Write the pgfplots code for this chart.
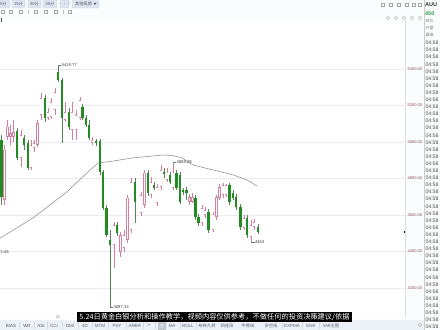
\documentclass[border=0pt]{standalone}
\usepackage{pgfplots}
\pgfplotsset{compat=1.18}
\usepackage{pgfplotstable}
\usepackage{fontspec}
\setmainfont{Liberation Sans}
\newfontfamily\cjk{Noto Sans CJK SC}

\definecolor{upcol}{RGB}{208,128,162}
\definecolor{dncol}{RGB}{34,140,34}
\definecolor{dnwick}{RGB}{90,130,90}
\definecolor{gridc}{RGB}{232,235,240}
\definecolor{pricec}{RGB}{140,70,85}
\definecolor{mac}{RGB}{135,135,135}
\definecolor{btn}{RGB}{221,228,240}
\definecolor{tabbg}{RGB}{236,241,248}
\definecolor{bgc}{RGB}{250,252,254}
\definecolor{txtg}{RGB}{90,96,110}

\pgfplotstableread{
x o h l c
1.2 5011 5039 4655 4699
17 5061 5077 4902 4913
24 5022 5039 4957 4984
28 4995 5011 4847 4858
45 5241 5258 5110 5132
58 5384 5419.77 5329 5340
62 5340 5351 4995 5132
69 5165 5187 5066 5083
82.5 5192 5208 5121 5132
86 5132 5148 5083 5093
89 5093 5121 5011 5022
96 5006 5017 4978 4995
100 5006 5017 4820 4836
103 4836 4847 4628 4639
106.5 4639 4655 4480 4491
110 4464 4518 4097.33 4436
117 4546 4562 4486 4502
135 4781 4803 4557 4672
148 4831 4847 4705 4721
154 4765 4781 4738 4749
164 4836 4858 4803 4825
170 4820 4836 4770 4781
176.5 4831 4847 4738 4749
180 4820 4836 4661 4672
183 4738 4749 4710 4727
186.5 4738 4754 4683 4721
195.5 4694 4710 4573 4590
198.5 4590 4606 4540 4557
208.5 4617 4634 4502 4519
229.5 4765 4776 4655 4672
233 4721 4738 4683 4694
236 4699 4716 4628 4645
240.5 4645 4661 4519 4535
247 4584 4601 4475 4491
258 4535 4551 4497 4508
}\dntab

\pgfplotstableread{
x o h l c
4.4 4683 4984 4655 4957
7.5 5028 5121 5011 5083
10.5 5028 5093 4984 5050
13.5 5028 5121 5000 5055
21 4913 5066 4864 5039
31 4858 5011 4847 4984
34 4968 5011 4946 4995
37.5 4984 5121 4973 5104
41 5148 5269 5121 5241
48 5132 5187 5121 5165
51 5137 5241 5126 5219
55 5176 5296 5148 5274
65 5121 5219 5110 5165
72 5066 5219 5011 5165
76 5066 5176 5011 5148
80 5132 5247 5121 5230
92 4995 5028 4984 5011
114 4436 4562 4311 4546
120.5 4398 4508 4371 4491
124 4420 4518 4398 4491
127.5 4464 4710 4447 4694
131 4518 4803 4502 4781
141 4612 4727 4595 4710
144.5 4655 4847 4639 4831
151 4710 4809 4694 4781
157 4666 4770 4650 4754
161 4754 4874 4738 4847
167 4792 4858 4781 4831
173 4749 4888.29 4738 4831
189.5 4672 4716 4655 4699
192.5 4672 4721 4666 4699
202 4557 4655 4540 4639
205 4601 4645 4584 4628
213 4519 4617 4508 4601
216.5 4590 4710 4573 4699
219.5 4694 4770 4683 4754
223 4710 4776 4694 4765
226 4710 4770 4699 4765
244 4530 4601 4519 4584
251 4480 4573 4453 4546
254 4535 4579 4519 4562
}\uptab

\pgfplotstableread{
x y
0 4473
33 4584
67 4727
87 4831
98 4885
110 4893
133 4913
150 4922
163 4929
173 4925
182 4913
193 4874
213 4847
233 4820
247 4792
257 4759
}\matab

\begin{document}
\begin{tikzpicture}
\useasboundingbox (0,0) rectangle (440bp,330bp);
\fill[bgc] (0,0) rectangle (440bp,330bp);
\fill[white] (0,12bp) rectangle (405bp,310bp);
\begin{axis}[
  at={(0bp,14bp)}, anchor=south west,
  scale only axis, width=405bp, height=294bp,
  xmin=0, xmax=405, ymin=4046.7, ymax=5657.5,
  axis line style={draw=none},
  xtick=\empty,
  ytick={4200,4400,4600,4800,5000,5200,5400},
  ymajorgrids, grid style={gridc, line width=0.5bp},
  major tick length=0pt,
  yticklabel pos=right,
  yticklabel style={font=\fontsize{4}{5}\selectfont, text=pricec, anchor=west, inner sep=0pt, xshift=2.5bp},
  /pgf/number format/fixed,
  /pgf/number format/fixed zerofill,
  /pgf/number format/precision=2,
  /pgf/number format/1000 sep={},
  /pgf/number format/assume math mode=true,
]
\addplot[mac, line width=0.5bp] table[x=x,y=y]{\matab};
% up wicks
\addplot[draw=none, error bars/.cd, y dir=plus, y explicit, error mark=none,
  error bar style={draw=upcol, line width=0.5bp}]
  table[x=x, y=l, y error plus expr={\thisrow{h}-\thisrow{l}}]{\uptab};
% up bodies
\addplot[draw=none, error bars/.cd, y dir=plus, y explicit, error mark=none,
  error bar style={draw=upcol, line width=2.6bp}]
  table[x=x, y=o, y error plus expr={\thisrow{c}-\thisrow{o}}]{\uptab};
\addplot[draw=none, error bars/.cd, y dir=plus, y explicit, error mark=none,
  error bar style={draw=white, line width=1.4bp}]
  table[x=x, y expr={\thisrow{o}+3.5}, y error plus expr={max(\thisrow{c}-\thisrow{o}-7,0)}]{\uptab};
% down wicks
\addplot[draw=none, error bars/.cd, y dir=plus, y explicit, error mark=none,
  error bar style={draw=dnwick, line width=0.5bp}]
  table[x=x, y=l, y error plus expr={\thisrow{h}-\thisrow{l}}]{\dntab};
% down bodies
\addplot[draw=none, error bars/.cd, y dir=plus, y explicit, error mark=none,
  error bar style={draw=dncol, line width=2.6bp}]
  table[x=x, y=c, y error plus expr={\thisrow{o}-\thisrow{c}}]{\dntab};
% annotations
\tikzset{ann/.style={font=\fontsize{4.2}{5}\selectfont, text=black!75, inner sep=0.4bp, anchor=west}}
\draw[black!55, line width=0.35bp] (axis cs:58,5419.77) -- (axis cs:61,5419.77) node[ann]{5419.77};
\draw[black!55, line width=0.35bp] (axis cs:110,4097.33) -- (axis cs:113,4097.33) node[ann]{4097.33};
\draw[black!55, line width=0.35bp] (axis cs:173,4888.29) -- (axis cs:176,4888.29) node[ann]{4888.29};
\draw[black!55, line width=0.35bp] (axis cs:251,4453) -- (axis cs:254.5,4453) node[ann]{4453};
\end{axis}

\begin{scope}[x=1bp,y=-1bp,yshift=330bp]
% separators
\draw[gray!25, line width=0.4bp] (405.5,20) -- (405.5,318);
\draw[gray!40, line width=0.4bp] (424,0) -- (424,330);
% current price marker
\fill[black] (403.5,231.3) rectangle (405.3,232.6);
% left label (cut in the reference)
\node[anchor=west, font=\fontsize{4.2}{5}\selectfont, text=black!75, inner sep=0pt] at (0.3,252.5) {3.49};
% top toolbar buttons
\foreach \a/\b/\t in {-4/10/5分,12/25/15分,28/41/30分,43/57/60分,60/69/···} {
  \filldraw[fill=btn, draw=btn!80!gray, line width=0.3bp, rounded corners=1bp] (\a,-2) rectangle (\b,8);
  \node[font=\cjk\fontsize{4.2}{5}\selectfont, text=txtg, inner sep=0pt] at ({(\a+\b)/2},4) {\t};
}
\filldraw[fill=btn, draw=btn!80!gray, line width=0.3bp, rounded corners=1bp] (72,-2) rectangle (99,8);
\node[font=\cjk\fontsize{4.2}{5}\selectfont, text=txtg, inner sep=0pt] at (83.5,4) {其他周期};
\fill[txtg] (93.5,3) -- (96.5,3) -- (95,5) -- cycle;
% icon row 2
\foreach \x in {3,11,21,36,46,56,70} {\draw[gray!70, line width=0.4bp] (\x-1.5,10.5) rectangle (\x+1.5,13.5);}
\foreach \x in {28,63} {\draw[gray!50, line width=0.3bp] (\x,10) -- (\x,14);}
\fill[black!70] (1.5,18.5) rectangle (2.5,22);
% top right icons
\foreach \x in {383,391,399,407,414,420} {\draw[gray!70, line width=0.4bp] (\x-1.6,3.4) rectangle (\x+1.6,6.6);}
\foreach \x in {388,396,404,412,420} {\draw[gray!70, line width=0.4bp] (\x,18) circle (1.6);}
% right column
\node[anchor=west, font=\bfseries\fontsize{5.5}{6}\selectfont, text=black!80, inner sep=0pt] at (425,5) {AUU};
\node[anchor=west, font=\bfseries\fontsize{5.5}{6}\selectfont, text={rgb,255:red,40;green,160;blue,70}, inner sep=0pt] at (425,13.5) {450};
\node[anchor=west, font=\cjk\fontsize{4}{5}\selectfont, text=gray, inner sep=0pt] at (425.5,21.5) {现价};
\node[anchor=west, font=\cjk\fontsize{4}{5}\selectfont, text=gray, inner sep=0pt] at (425.5,28) {开盘};
\node[anchor=west, font=\cjk\fontsize{4}{5}\selectfont, text=gray, inner sep=0pt] at (425.5,34.5) {最高};
\foreach \k in {0,...,40} {
  \node[anchor=west, font=\fontsize{5.2}{6}\selectfont, text=black!70, inner sep=0pt] at (425.3,{43+7.1*\k}) {04:58};
}
% small time label
\node[font=\fontsize{3.8}{4}\selectfont, text=gray, inner sep=0pt] at (58,317) {03};
% bottom tab bar
\fill[tabbg] (0,320) rectangle (423.5,330);
\foreach \x/\t in {11/BIAS,27/WR,41/ASI,54/CCI,70/DMI,85/4D,100/MTM,117/PSY,135/ARBR,149/>,172/MA,188/BOLL,292/EXPMA,311/ENE} {
  \node[font=\fontsize{4.5}{5}\selectfont, text=txtg, inner sep=0pt] at (\x,325.5) {\t};
}
\foreach \x in {19,34,47.5,62,78,92,108,126,143,155,180,196,282,302,319} {\draw[gray!30, line width=0.3bp] (\x,322) -- (\x,329);}
\fill[btn!70!gray] (158,321) rectangle (166,330);
\node[font=\cjk\fontsize{4.5}{5}\selectfont, text=white, inner sep=0pt] at (162,325.5) {主};
\foreach \x/\t in {207/布林九转,227/四连阳,248/牛熊线,271/多空线,331/SAR主图} {
  \node[font=\cjk\fontsize{4.3}{5}\selectfont, text=txtg, inner sep=0pt] at (\x,325.5) {\t};
}
\draw[gray!70, line width=0.4bp] (420,325) circle (1.8);
% subtitle
\fill[black] (77,312) rectangle (352,322);
\node[text=white, inner sep=0pt] at (214.5,317) {\resizebox{270bp}{!}{\cjk 5.24日黄金白银分析和操作教学，视频内容仅供参考，不做任何的投资决策建议/依据}};
\end{scope}
\end{tikzpicture}
\end{document}
